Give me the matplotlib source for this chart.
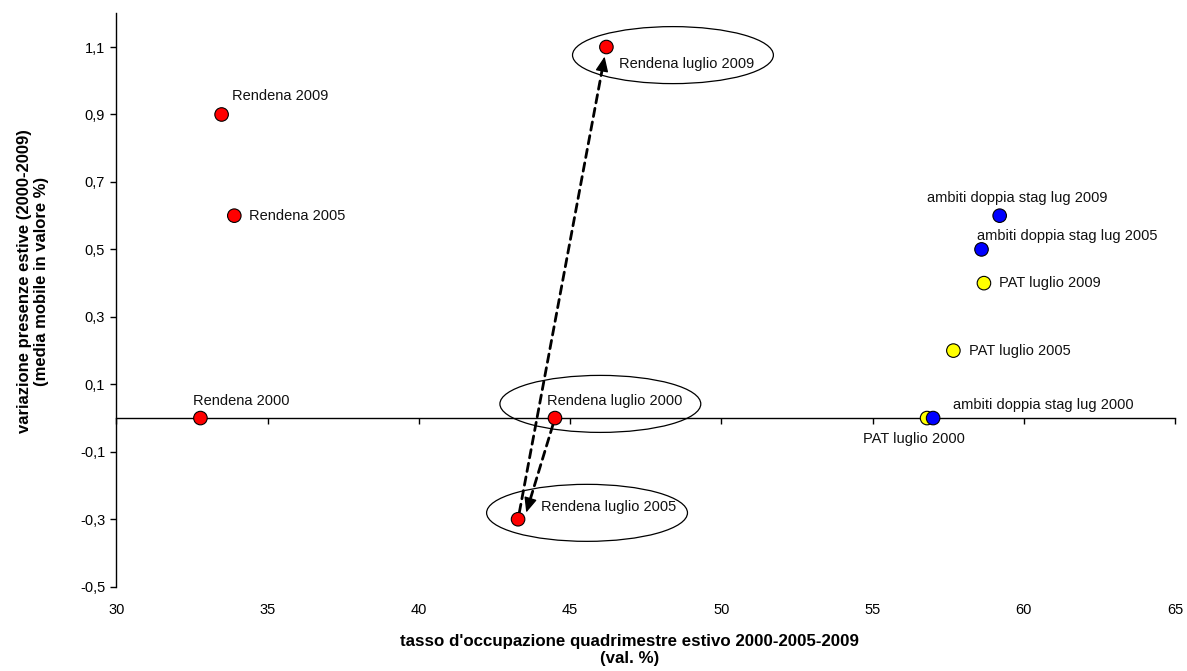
import matplotlib
matplotlib.use("Agg")
import matplotlib.pyplot as plt
from matplotlib.patches import Ellipse
from matplotlib.ticker import FuncFormatter

plt.rcParams['font.family'] = ['Liberation Sans', 'DejaVu Sans']

# data
labels = ['Rendena 2000', 'Rendena 2005', 'Rendena 2009',
          'Rendena luglio 2000', 'Rendena luglio 2005', 'Rendena luglio 2009',
          'PAT luglio 2000', 'PAT luglio 2005', 'PAT luglio 2009',
          'ambiti doppia stag lug 2000', 'ambiti doppia stag lug 2005',
          'ambiti doppia stag lug 2009']
occupazione = [32.78, 33.9, 33.48,
               44.5, 43.28, 46.2,
               56.8, 57.67, 58.68,
               57.0, 58.6, 59.2]
variazione = [0.0, 0.6, 0.9,
              0.0, -0.3, 1.1,
              0.0, 0.2, 0.4,
              0.0, 0.5, 0.6]
colori = ['red'] * 6 + ['yellow'] * 3 + ['blue'] * 3

x_ticks = [30, 35, 40, 45, 50, 55, 60, 65]
y_ticks = [-0.5, -0.3, -0.1, 0.1, 0.3, 0.5, 0.7, 0.9, 1.1]

# label placement: offset in points, horizontal alignment
label_pos = [((29.5, 12.2), 'center'), ((10.8, 0), 'left'), ((7.2, 13), 'left'),
             ((-5.8, 12.2), 'left'), ((16.5, 8.6), 'left'), ((8.9, -12.5), 'left'),
             ((-9.6, -15.1), 'center'), ((11, 0), 'left'), ((10.6, 0), 'left'),
             ((14, 9.4), 'left'), ((-3.4, 9.4), 'left'), ((13, 13), 'center')]

fig = plt.figure(figsize=(11.87, 6.71), dpi=100)
ax = fig.add_axes([0.098, 0.1256, 0.892, 0.8546])
ax.set_xlim(30, 65)
ax.set_ylim(-0.5, 1.2)

for sp in ['top', 'right', 'bottom']:
    ax.spines[sp].set_visible(False)
ax.spines['left'].set_linewidth(1.0)

ax.set_yticks(y_ticks)
ax.yaxis.set_major_formatter(FuncFormatter(lambda v, p: ('%.1f' % v).replace('.', ',')))
ax.set_xticks(x_ticks)
ax.tick_params(axis='y', direction='out', length=4, width=1, labelsize=10.5, pad=4)
ax.tick_params(axis='x', length=0, labelsize=10.5, pad=12)

# horizontal axis line crossing at y = 0, with its ticks
ymin, ymax = ax.get_ylim()
sec = ax.secondary_xaxis((0 - ymin) / (ymax - ymin))
sec.set_xticks(x_ticks)
sec.tick_params(axis='x', direction='out', length=4, width=1, labelbottom=False)
sec.spines['bottom'].set_linewidth(1.0)

ax.scatter(occupazione, variazione, s=95, c=colori, edgecolors='black',
           linewidths=0.8, zorder=5)

for name, x, y, (off, ha) in zip(labels, occupazione, variazione, label_pos):
    ax.annotate(name, (x, y), xytext=off, textcoords='offset points',
                ha=ha, va='center', fontsize=10.5, color='#111111')

# ellipses around the Rendena July points
idx = {n: i for i, n in enumerate(labels)}
ellissi = [('Rendena luglio 2009', 2.2, -0.024),
           ('Rendena luglio 2000', 1.5, 0.042),
           ('Rendena luglio 2005', 2.28, 0.019)]
for name, dx, dy in ellissi:
    i = idx[name]
    ax.add_patch(Ellipse((occupazione[i] + dx, variazione[i] + dy), 6.64, 0.169,
                         fill=False, edgecolor='black', lw=0.9, zorder=3))


def dashed_arrow(p0, p1, shrink0, shrink1, head_frac):
    # dashed shaft plus a solid filled head
    ax.annotate('', xy=p1, xytext=p0,
                arrowprops=dict(arrowstyle='-', linestyle=(0, (3, 2)), lw=2.0,
                                color='black', shrinkA=shrink0, shrinkB=shrink1 + 8),
                zorder=4)
    q = (p0[0] + head_frac * (p1[0] - p0[0]), p0[1] + head_frac * (p1[1] - p0[1]))
    ax.annotate('', xy=p1, xytext=q,
                arrowprops=dict(arrowstyle='-|>,head_length=0.65,head_width=0.28',
                                lw=1.0, color='black', mutation_scale=14,
                                shrinkA=0, shrinkB=shrink1),
                zorder=4)


a = idx['Rendena luglio 2000']
b = idx['Rendena luglio 2005']
c = idx['Rendena luglio 2009']
dashed_arrow((occupazione[b], variazione[b]), (occupazione[c], variazione[c]), 5, 7, 0.96)
dashed_arrow((occupazione[a], variazione[a]),
             (occupazione[b] + 0.27, variazione[b] + 0.02), 5, 0, 0.88)

ax.set_xlabel("tasso d'occupazione quadrimestre estivo 2000-2005-2009\n(val. %)",
              fontsize=12.2, fontweight='bold', linespacing=1.2)
ax.xaxis.set_label_coords(0.485, -0.082)
ax.set_ylabel('variazione presenze estive (2000-2009)\n(media mobile in valore %)',
              fontsize=12, fontweight='bold', linespacing=1.1)
ax.yaxis.set_label_coords(-0.064, 0.533)

fig.savefig('out.png', dpi=100)
